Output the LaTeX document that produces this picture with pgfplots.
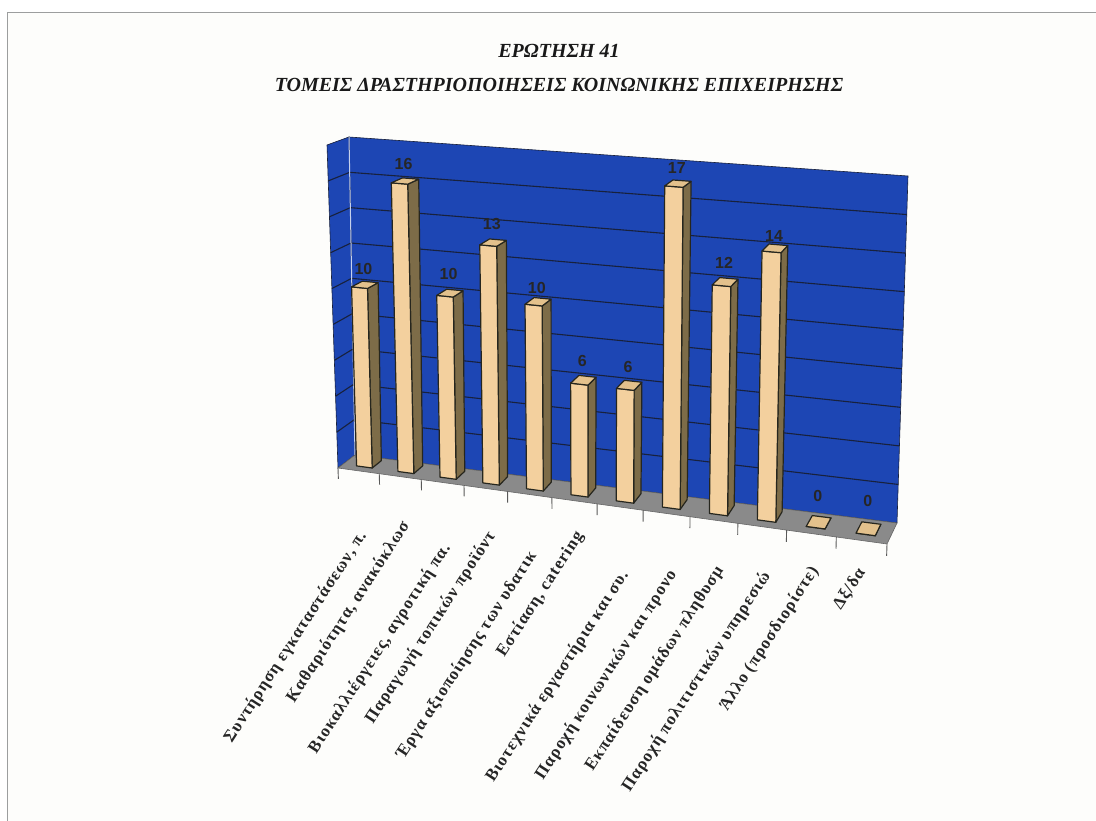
\documentclass[border=0pt]{standalone}
\usepackage{fontspec}
\setmainfont{Liberation Serif}
\newfontfamily\labfont[LetterSpace=6]{Liberation Serif}
\newfontfamily\numfont{Liberation Sans}
\usepackage{pgfplots}
\usepackage{pgfplotstable}
\pgfplotsset{compat=1.18}
\definecolor{pagecol}{HTML}{FDFDFB}
\definecolor{wallblue}{HTML}{1D46B4}
\definecolor{floorgray}{HTML}{8A8A8A}
\definecolor{barfront}{HTML}{F3D09E}
\definecolor{barside}{HTML}{7D6C48}
\definecolor{bartop}{HTML}{E3C18C}
\definecolor{edgecol}{HTML}{26261E}
\definecolor{gridcol}{HTML}{18213C}
\definecolor{framecol}{HTML}{9C9E9E}

\pgfplotstableread[row sep=\\]{a d w\\ 0.33 0.3 0\\ 0.71 0.3 0\\ 0.71 0.3 1\\ 0.33 0.3 1\\}\frontface
\pgfplotstableread[row sep=\\]{a d w\\ 0.71 0.3 0\\ 0.71 0.85 0\\ 0.71 0.85 1\\ 0.71 0.3 1\\}\sideface
\pgfplotstableread[row sep=\\]{a d w\\ 0.33 0.3 1\\ 0.71 0.3 1\\ 0.71 0.85 1\\ 0.33 0.85 1\\}\topface
\pgfplotstableread[row sep=\\]{i v lift\\ 0 10 17\\ 1 16 18\\ 2 10 20\\ 3 13 19\\ 4 10 15\\ 5 6 20\\ 6 6 19\\ 7 17 16\\ 8 12 20\\ 9 14 13\\ 10 0 28\\ 11 0 29\\}\barvalues

\newcommand\Face[4]{\addplot[fill=#1,draw=edgecol,line width=1.2pt,line join=round,no markers]
  table[x expr={projx(#2+\thisrow{a},\thisrow{d},#3*\thisrow{w})},
        y expr={projy(#2+\thisrow{a},\thisrow{d},#3*\thisrow{w})}]{#4} -- cycle;}
\newcommand\Bar[2]{\Face{barside}{#1}{#2}{\sideface}\Face{barfront}{#1}{#2}{\frontface}\Face{bartop}{#1}{#2}{\topface}}
\newcommand\Grid[1]{\addplot[draw=gridcol,line width=1.1pt,no markers]
  table[row sep=\\,x expr={projx(\thisrow{u},\thisrow{d},#1)},y expr={projy(\thisrow{u},\thisrow{d},#1)}]{u d\\ 0 0\\ 0 1\\ 12 1\\};}
\newcommand\Tick[1]{\addplot[draw=black!65,line width=0.9pt,no markers]
  table[row sep=\\,x expr={projx(#1,0,\thisrow{v})},y expr={projy(#1,0,\thisrow{v})}]{v\\ 0\\ -0.6\\};}
\newcommand\Lab[3]{\node[rotate=57,anchor=east,inner sep=0pt,text=black!85,font=\fontsize{17}{17}\labfont\bfseries] at (axis cs:#1,#2) {#3};}

\begin{document}
\begin{tikzpicture}[declare function={
  warp(\x)=(\x/12)/(1.119-0.119*\x/12);
  fx(\x,\y,\z)=(1-\z)*((1-\y)*(338+549*\x)+\y*(355+542*\x))+\z*((1-\y)*(327+571*\x)+\y*(349+559*\x));
  fy(\x,\y,\z)=(1-\z)*((1-\y)*(468+76*\x)+\y*(455+68*\x))+\z*((1-\y)*(145+43*\x)+\y*(137+39*\x));
  projx(\x,\y,\z)=fx(warp(\x),\y,\z/18);
  projy(\x,\y,\z)=fy(warp(\x),\y,\z/18);
}]
\begin{axis}[
  scale only axis, width=1096pt, height=821pt,
  xmin=0, xmax=1096, ymin=0, ymax=821, y dir=reverse,
  hide axis, clip=true,
]
\fill[pagecol] (axis cs:0,0) rectangle (axis cs:1096,821);
\fill[white] (axis cs:0,0) rectangle (axis cs:1096,12);
\fill[white] (axis cs:0,0) rectangle (axis cs:7,821);
\draw[framecol,line width=1.6pt] (axis cs:1096,12.5) -- (axis cs:7.5,12.5) -- (axis cs:7.5,821);

% back wall, side wall, floor
\addplot[fill=wallblue,draw=gridcol,line width=0.6pt,no markers]
  table[row sep=\\,x expr={projx(\thisrow{u},\thisrow{d},\thisrow{v})},y expr={projy(\thisrow{u},\thisrow{d},\thisrow{v})}]
  {u d v\\ 0 1 0\\ 12 1 0\\ 12 1 18\\ 0 1 18\\} -- cycle;
\addplot[fill=wallblue,draw=gridcol,line width=0.6pt,no markers]
  table[row sep=\\,x expr={projx(\thisrow{u},\thisrow{d},\thisrow{v})},y expr={projy(\thisrow{u},\thisrow{d},\thisrow{v})}]
  {u d v\\ 0 0 0\\ 0 1 0\\ 0 1 18\\ 0 0 18\\} -- cycle;
\Grid{2}\Grid{4}\Grid{6}\Grid{8}\Grid{10}\Grid{12}\Grid{14}\Grid{16}
\addplot[draw=white!75!wallblue,line width=1pt,no markers]
  table[row sep=\\,x expr={projx(0,1,\thisrow{v})},y expr={projy(0,1,\thisrow{v})}]{v\\ 0\\ 18\\};
\addplot[fill=floorgray,draw=black!60,line width=0.6pt,no markers]
  table[row sep=\\,x expr={projx(\thisrow{u},\thisrow{d},0)},y expr={projy(\thisrow{u},\thisrow{d},0)}]
  {u d\\ 0 0\\ 12 0\\ 12 1\\ 0 1\\} -- cycle;
\Tick{0}\Tick{1}\Tick{2}\Tick{3}\Tick{4}\Tick{5}\Tick{6}\Tick{7}\Tick{8}\Tick{9}\Tick{10}\Tick{11}\Tick{12}

% bars: category index, value
\Bar{0}{10}\Bar{1}{16}\Bar{2}{10}\Bar{3}{13}\Bar{4}{10}\Bar{5}{6}
\Bar{6}{6}\Bar{7}{17}\Bar{8}{12}\Bar{9}{14}\Bar{10}{0}\Bar{11}{0}

% value labels
\addplot[draw=none,no markers,
  point meta=\thisrow{v},
  nodes near coords={\pgfmathprintnumber[fixed,precision=0,assume math mode=true]{\pgfplotspointmeta}},
  every node near coord/.append style={anchor=center,inner sep=0pt,text=black!85,font=\fontsize{16}{16}\numfont\bfseries}]
  table[x expr={projx(\thisrow{i}+0.52,0.5,\thisrow{v})},
        y expr={projy(\thisrow{i}+0.52,0.5,\thisrow{v})-\thisrow{lift}}]{\barvalues};

% category labels
\Lab{363}{533}{Συντήρηση εγκαταστάσεων, π.}
\Lab{406}{523}{Καθαριότητα, ανακύκλωσ}
\Lab{447}{545}{Βιοκαλλιέργειες, αγροτική πα.}
\Lab{492}{533}{Παραγωγή τοπικών προϊόντ}
\Lab{533}{553}{Έργα αξιοποίησης των υδατικ}
\Lab{580}{533}{Εστίαση, catering}
\Lab{625}{572}{Βιοτεχνικά εργαστήρια και συ.}
\Lab{673}{572}{Παροχή κοινωνικών και προνο}
\Lab{720}{568}{Εκπαίδευση ομάδων πληθυσμ}
\Lab{767}{573}{Παροχή πολιτιστικών υπηρεσιώ}
\Lab{815}{568}{Άλλο (προσδιορίστε)}
\Lab{862}{570}{Δξ/δα}

% title
\node[font=\fontsize{20}{20}\selectfont\bfseries\itshape,text=black!90,inner sep=0pt] at (axis cs:559,51) {ΕΡΩΤΗΣΗ 41};
\node[font=\fontsize{20}{20}\selectfont\bfseries\itshape,text=black!90,inner sep=0pt] at (axis cs:559,85) {ΤΟΜΕΙΣ ΔΡΑΣΤΗΡΙΟΠΟΙΗΣΕΙΣ ΚΟΙΝΩΝΙΚΗΣ ΕΠΙΧΕΙΡΗΣΗΣ};
\end{axis}
\end{tikzpicture}
\end{document}
